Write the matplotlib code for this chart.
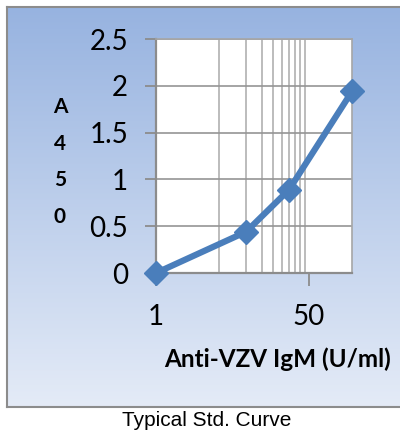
import numpy as np
import matplotlib
matplotlib.use("Agg")
import matplotlib.pyplot as plt
from matplotlib.ticker import FixedLocator, NullFormatter, FixedFormatter
from matplotlib.colors import LinearSegmentedColormap

# standard curve values
conc = [1, 10, 30, 150]          # U/ml (zero standard shown at 1)
a450 = [0.0, 0.44, 0.89, 1.94]
x_major = [1, 50]
x_major_labels = ["1", "50"]
x_minor = [5, 10, 15, 20, 25, 30, 35, 40, 45]
y_ticks = [0, 0.5, 1, 1.5, 2, 2.5]
y_labels = ["0", "0.5", "1", "1.5", "2", "2.5"]

W, H = 400, 434
fig = plt.figure(figsize=(W / 100, H / 100), dpi=100)
fig.patch.set_facecolor("white")

# gradient panel behind the chart
bg = fig.add_axes([7 / W, (H - 407) / H, 393 / W, 400 / H])
cmap = LinearSegmentedColormap.from_list("bg", ["#97b3e0", "#e4ebf7"])
bg.imshow(np.linspace(0, 1, 256).reshape(-1, 1), cmap=cmap, aspect="auto",
          extent=[0, 1, 0, 1])
bg.set_xticks([])
bg.set_yticks([])
for s in bg.spines.values():
    s.set_color("#8c8c8c")
    s.set_linewidth(1.5)
bg.spines["right"].set_visible(False)

ax = fig.add_axes([156 / W, (H - 273) / H, 196 / W, 234 / H])
ax.set_facecolor("white")
ax.set_xscale("log", base=50)
ax.set_xlim(1, 150)
ax.set_ylim(0, 2.5)

ax.xaxis.set_major_locator(FixedLocator(x_major))
ax.xaxis.set_major_formatter(FixedFormatter(x_major_labels))
ax.xaxis.set_minor_locator(FixedLocator(x_minor))
ax.xaxis.set_minor_formatter(NullFormatter())
ax.set_yticks(y_ticks)
ax.set_yticklabels(y_labels)

ax.grid(True, which="minor", axis="x", color="#b0b0b0", linewidth=1.2)
ax.grid(True, which="major", axis="y", color="#959595", linewidth=1.2)
ax.set_axisbelow(True)

ax.tick_params(axis="x", which="major", length=9, width=1.3, color="#8c8c8c",
               labelsize=20, pad=13)
ax.tick_params(axis="x", which="minor", length=0)
ax.tick_params(axis="y", length=8, width=1.3, color="#8c8c8c", labelsize=20, pad=12)
for lab in ax.get_xticklabels() + ax.get_yticklabels():
    lab.set_fontfamily("Lato")

for side in ["left", "bottom"]:
    ax.spines[side].set_color("#8c8c8c")
    ax.spines[side].set_linewidth(1.6)
for side in ["top", "right"]:
    ax.spines[side].set_color("#a6a6a6")
    ax.spines[side].set_linewidth(1.2)

ax.plot(conc, a450, color="#4a7ebb", linewidth=4.5, marker="D",
        markersize=12, markerfacecolor="#4a7ebb", markeredgecolor="#4a7ebb",
        clip_on=False, zorder=5)

fig.text(60 / W, 1 - 162 / H, "A\n4\n5\n0", fontfamily="Lato", fontweight="bold",
         fontsize=15, ha="center", va="center", linespacing=2.05)
fig.text(278 / W, 1 - 359 / H, "Anti-VZV IgM (U/ml)", fontfamily="Lato",
         fontweight="bold", fontsize=17.5, ha="center", va="center")
fig.text(207 / W, 1 - 421 / H, "Typical Std. Curve", fontfamily="Liberation Sans",
         fontsize=15, ha="center", va="center")

fig.savefig("out.png", dpi=100)
